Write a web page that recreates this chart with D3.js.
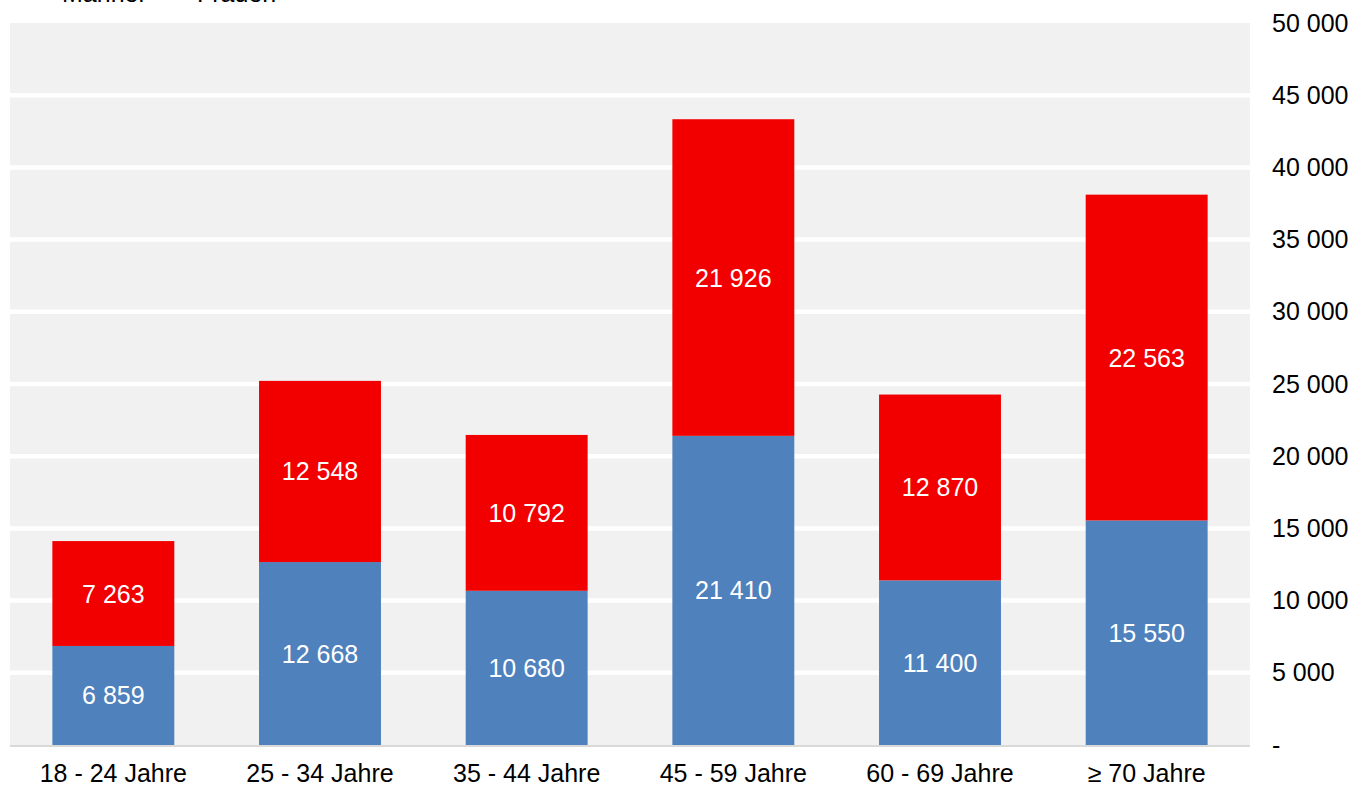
<!DOCTYPE html>
<html><head><meta charset="utf-8">
<script src="https://cdn.jsdelivr.net/npm/d3@7"></script>
<style>body{margin:0;background:#fff}svg{display:block;font-family:"Liberation Sans",Arial,sans-serif}</style>
</head><body><svg id="c" width="1356" height="787"></svg>
<script>
const categories = ["18 - 24 Jahre","25 - 34 Jahre","35 - 44 Jahre","45 - 59 Jahre","60 - 69 Jahre","≥ 70 Jahre"];
const maenner = [6859,12668,10680,21410,11400,15550];
const frauen = [7263,12548,10792,21926,12870,22563];
const seriesNames = ["Männer","Frauen"];
const yTicks = [0,5000,10000,15000,20000,25000,30000,35000,40000,45000,50000];
const colors = ["#4f81bd","#f20000"];

const svg = d3.select("#c");
const L=10,R=1250,T=23,B=745;
const x = d3.scaleBand().domain(categories).range([L,R]).paddingInner(0.41).paddingOuter(0.205);
const y = d3.scaleLinear().domain([0,50000]).range([B,T]);
const fmt = v => v===0 ? "-" : d3.format(",")(v).replace(/,/g," ");

svg.append("rect").attr("x",L).attr("y",T).attr("width",R-L).attr("height",B-T).attr("fill","#f1f1f1");
svg.append("g").selectAll("line").data(yTicks.filter(d=>d>0&&d<50000)).join("line")
  .attr("x1",L).attr("x2",R).attr("y1",d=>y(d)).attr("y2",d=>y(d)).attr("stroke","#fff").attr("stroke-width",4.5);

const data = categories.map((c,i)=>({c,m:maenner[i],f:frauen[i]}));
const stack = d3.stack().keys(["m","f"])(data);
stack.forEach((s,si)=>{
  const g = svg.append("g");
  g.selectAll("rect").data(s).join("rect")
    .attr("x",d=>x(d.data.c)).attr("width",x.bandwidth())
    .attr("y",d=>y(d[1])).attr("height",d=>y(d[0])-y(d[1])).attr("fill",colors[si]);
  g.selectAll("text").data(s).join("text")
    .attr("x",d=>x(d.data.c)+x.bandwidth()/2).attr("y",d=>(y(d[0])+y(d[1]))/2)
    .attr("dy","0.36em").attr("text-anchor","middle").attr("fill","#fff").attr("font-size",25)
    .text(d=>fmt(d[1]-d[0]));
});
svg.append("line").attr("x1",L).attr("x2",R).attr("y1",B+1).attr("y2",B+1).attr("stroke","#d9d9d9").attr("stroke-width",2);

const ya = d3.axisRight(y).tickValues(yTicks).tickFormat(fmt).tickSize(0).tickPadding(0);
const yg = svg.append("g").attr("transform",`translate(1272,0)`).call(ya);
yg.select(".domain").remove();
yg.selectAll("text").attr("font-size",25).attr("fill","#000").attr("font-family","Liberation Sans, Arial, sans-serif");

const xa = d3.axisBottom(x).tickSize(0).tickPadding(0);
const xg = svg.append("g").attr("transform",`translate(0,${B+19})`).call(xa);
xg.select(".domain").remove();
xg.selectAll("text").attr("font-size",25).attr("fill","#000").attr("font-family","Liberation Sans, Arial, sans-serif");

const lg = svg.append("g");
[40,175].forEach((lx,i)=>{
  lg.append("rect").attr("x",lx-26).attr("y",-18).attr("width",14).attr("height",14).attr("fill",colors[i]);
  lg.append("text").attr("x",lx+22).attr("y",2).attr("font-size",25).attr("fill","#000").text(seriesNames[i]);
});
</script></body></html>
